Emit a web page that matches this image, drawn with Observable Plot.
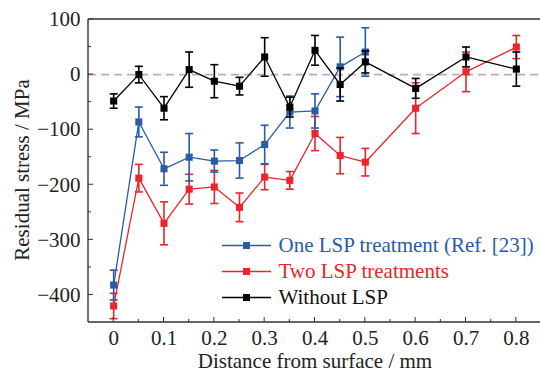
<!DOCTYPE html>
<html>
<head>
<meta charset="utf-8">
<script src="https://cdn.jsdelivr.net/npm/d3@7"></script>
<script src="https://cdn.jsdelivr.net/npm/@observablehq/plot@0.6"></script>
<style>
  html, body { margin: 0; padding: 0; background: #fff; }
  #chart svg { display: block; }
</style>
</head>
<body>
<div id="chart"></div>
<script>
// ---- data ----
const seriesNames = ["One LSP treatment (Ref. [23])", "Two LSP treatments", "Without LSP"];
const seriesColors = ["#2a5ba8", "#e8262b", "#000000"];

const blueX   = [0, 0.05, 0.1, 0.15, 0.2, 0.25, 0.3, 0.35, 0.4, 0.45, 0.5];
const blueY   = [-382, -86, -171, -150, -157, -156, -127, -68, -66, 14, 41];
const blueErr = [27, 27, 30, 43, 20, 32, 35, 29, 31, 54, 44];

const redX    = [0, 0.05, 0.1, 0.15, 0.2, 0.25, 0.3, 0.35, 0.4, 0.45, 0.5, 0.6, 0.7, 0.8];
const redY    = [-420, -188, -270, -208, -204, -241, -186, -192, -107, -147, -159, -61, 5, 50];
const redErr  = [23, 25, 39, 27, 30, 26, 23, 16, 31, 33, 25, 46, 36, 21];

const blackX   = [0, 0.05, 0.1, 0.15, 0.2, 0.25, 0.3, 0.35, 0.4, 0.45, 0.5, 0.6, 0.7, 0.8];
const blackY   = [-48, 0, -61, 9, -12, -21, 32, -59, 44, -18, 23, -25, 32, 10];
const blackErr = [13, 15, 21, 32, 30, 16, 35, 18, 27, 30, 20, 18, 18, 31];

const xTicks = [0, 0.1, 0.2, 0.3, 0.4, 0.5, 0.6, 0.7, 0.8];
const xMinorTicks = [0.05, 0.15, 0.25, 0.35, 0.45, 0.55, 0.65, 0.75];
const yTicks = [100, 0, -100, -200, -300, -400];
const yMinorTicks = [50, -50, -150, -250, -350];
const refLine = [0];

const xLabel = "Distance from surface / mm";
const yLabel = "Residual stress / MPa";

(function () {
  function rows(xv, yv, ev, name) {
    return xv.map((x, i) => ({x, y: yv[i], lo: yv[i] - ev[i], hi: yv[i] + ev[i], s: name}));
  }
  const blue = rows(blueX, blueY, blueErr, seriesNames[0]);
  const red = rows(redX, redY, redErr, seriesNames[1]);
  const black = rows(blackX, blackY, blackErr, seriesNames[2]);

  const capSymbol = { draw(ctx, size) { const r = Math.sqrt(size) / 2; ctx.moveTo(-r, 0); ctx.lineTo(r, 0); } };

  function seriesMarks(data, color) {
    return [
      Plot.line(data, {x: "x", y: "y", stroke: color, strokeWidth: 1.3}),
      Plot.ruleX(data, {x: "x", y1: "lo", y2: "hi", stroke: color, strokeWidth: 1.6}),
      Plot.dot(data, {x: "x", y: "lo", symbol: capSymbol, r: 4.5, stroke: color, strokeWidth: 1.6}),
      Plot.dot(data, {x: "x", y: "hi", symbol: capSymbol, r: 4.5, stroke: color, strokeWidth: 1.6}),
      Plot.dot(data, {x: "x", y: "y", symbol: "square", r: 4, fill: color, stroke: "none"})
    ];
  }

  const font = "'Liberation Serif', 'Times New Roman', serif";

  const plot = Plot.plot({
    width: 540,
    height: 372,
    marginLeft: 88,
    marginRight: 0,
    marginTop: 19,
    marginBottom: 50,
    style: {fontFamily: font, fontSize: "21px", color: "#222", background: "#fff"},
    x: {domain: [-0.05, 0.848], label: null},
    y: {domain: [-450, 100], label: null},
    marks: [
      Plot.ruleY(refLine, {stroke: "#c9a0cc", strokeWidth: 1.6, strokeDasharray: "8,5"}),
      Plot.axisX(xTicks, {tickSize: 0, tickPadding: 8, tickFormat: d => String(d), fontSize: 21}),
      Plot.axisY(yTicks, {tickSize: 0, tickPadding: 8, fontSize: 21}),
      ...seriesMarks(red, seriesColors[1]),
      ...seriesMarks(blue, seriesColors[0]),
      ...seriesMarks(black, seriesColors[2])
    ]
  });

  document.getElementById("chart").appendChild(plot);

  const svg = d3.select(plot);
  const sx = plot.scale("x"), sy = plot.scale("y");
  const fl = sx.apply(-0.05), fb = sy.apply(-450), ft = sy.apply(100);
  const g = svg.append("g").attr("stroke", "#333").attr("stroke-width", 1.4);
  g.append("line").attr("x1", fl).attr("x2", 540).attr("y1", ft).attr("y2", ft);
  g.append("line").attr("x1", fl).attr("x2", 540).attr("y1", fb).attr("y2", fb);
  g.append("line").attr("x1", fl).attr("x2", fl).attr("y1", ft).attr("y2", fb);
  xTicks.forEach(t => g.append("line").attr("x1", sx.apply(t)).attr("x2", sx.apply(t)).attr("y1", fb).attr("y2", fb - 5).attr("stroke-width", 1));
  xMinorTicks.forEach(t => g.append("line").attr("x1", sx.apply(t)).attr("x2", sx.apply(t)).attr("y1", fb).attr("y2", fb - 3).attr("stroke-width", 1));
  yTicks.forEach(t => g.append("line").attr("y1", sy.apply(t)).attr("y2", sy.apply(t)).attr("x1", fl).attr("x2", fl + 5).attr("stroke-width", 1));
  yMinorTicks.forEach(t => g.append("line").attr("y1", sy.apply(t)).attr("y2", sy.apply(t)).attr("x1", fl).attr("x2", fl + 3).attr("stroke-width", 1));

  svg.append("text").text(xLabel)
    .attr("x", 315).attr("y", 368)
    .attr("text-anchor", "middle").attr("font-family", font).attr("font-size", 21).attr("fill", "#222");
  svg.append("text").text(yLabel)
    .attr("transform", "translate(29,170) rotate(-90)")
    .attr("text-anchor", "middle").attr("font-family", font).attr("font-size", 21).attr("fill", "#222");

  const legendY = [245.5, 271.5, 297.5];
  const lg = svg.append("g");
  seriesNames.forEach((name, i) => {
    const c = seriesColors[i];
    lg.append("line").attr("x1", 222).attr("x2", 271).attr("y1", legendY[i]).attr("y2", legendY[i]).attr("stroke", c).attr("stroke-width", 1.3);
    lg.append("rect").attr("x", 243).attr("y", legendY[i] - 3.5).attr("width", 7).attr("height", 7).attr("fill", c);
    lg.append("text").text(name).attr("x", 278.5).attr("y", legendY[i] + 6.5)
      .attr("text-anchor", "start")
      .attr("font-family", font).attr("font-size", 21).attr("fill", c === "#000000" ? "#111" : c);
  });
})();
</script>
</body>
</html>
